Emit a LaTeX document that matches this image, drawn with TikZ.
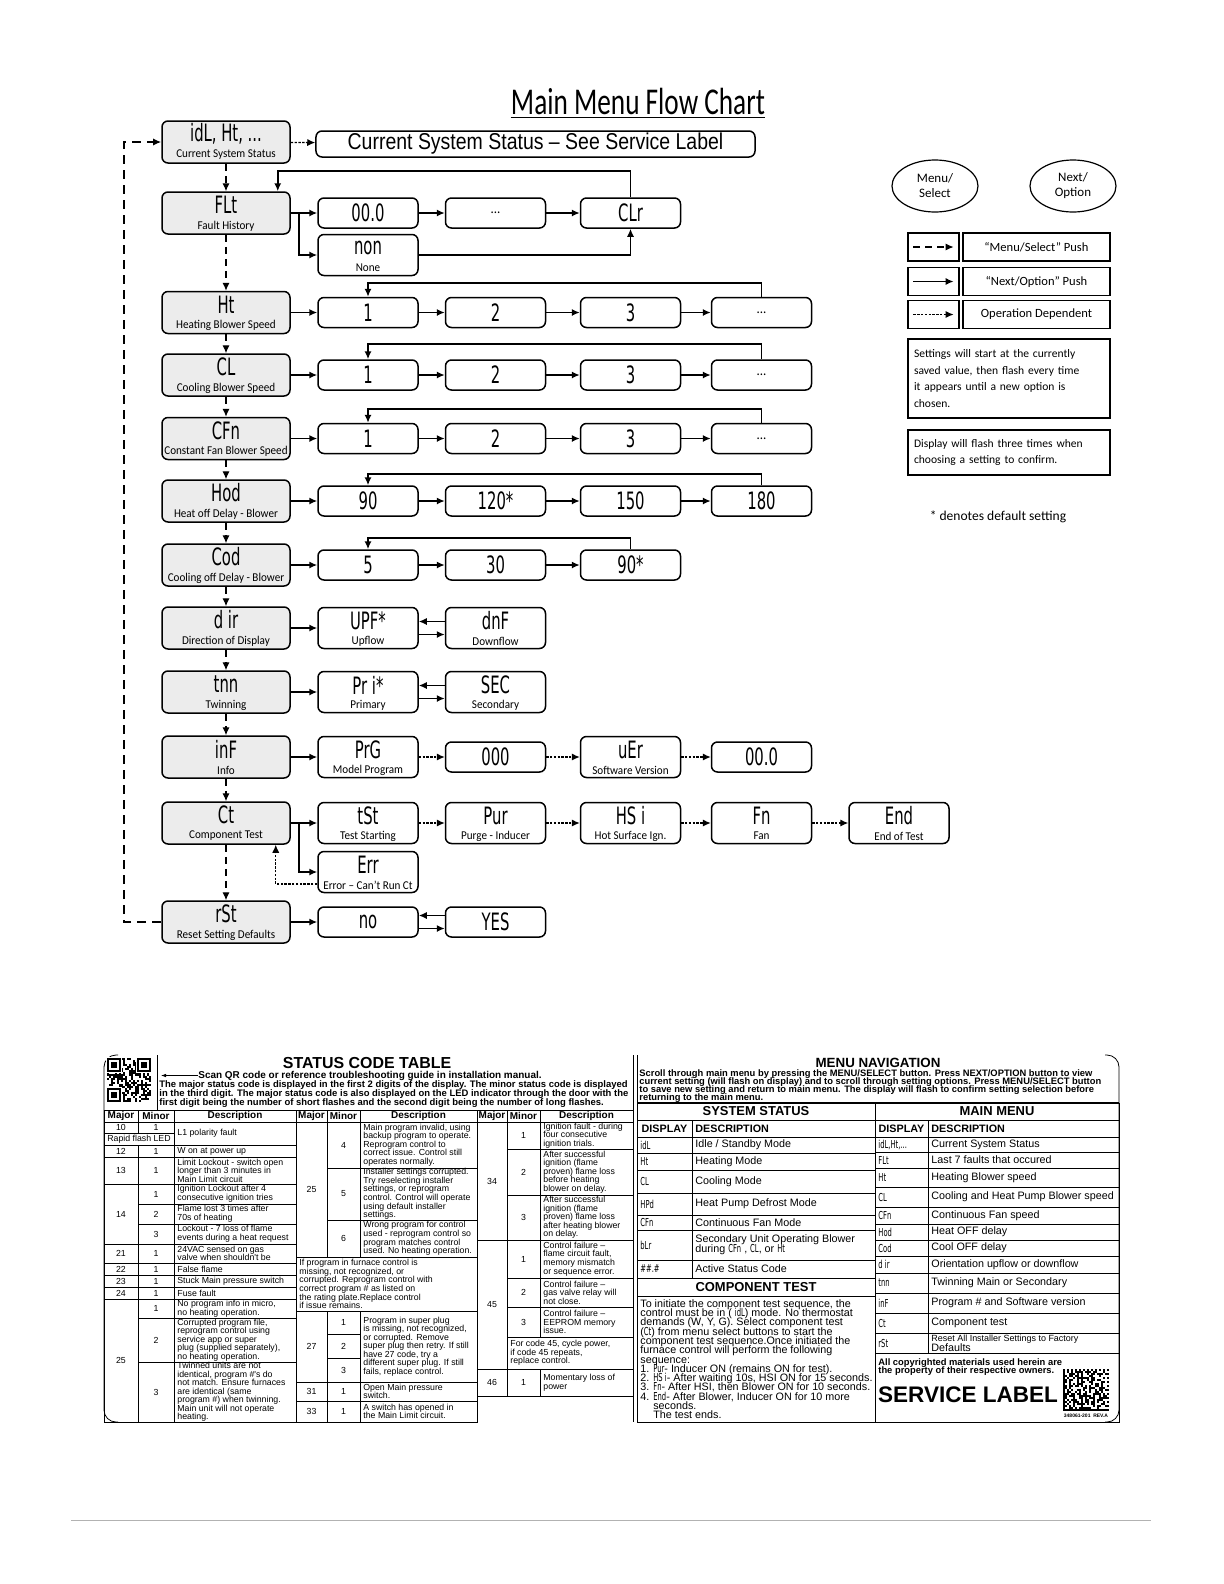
\documentclass[tikz,border=0pt]{standalone}
\usepackage{fontspec}
\setmainfont{Carlito}
\newfontfamily\segfont[FakeStretch=0.62]{DejaVu Sans}
\newfontfamily\lblfont[FakeStretch=0.93]{Carlito}
\newfontfamily\titlefont[FakeStretch=0.72]{Carlito}
\newfontfamily\narrowfont[FakeStretch=0.85]{Liberation Sans}
\newfontfamily\arialfont{Liberation Sans}
\usetikzlibrary{arrows.meta,positioning,shapes.geometric}
\setlength{\lineskiplimit}{-10pt}

\newcommand\segtxt[1]{{\segfont\fontsize{5.5}{5}\selectfont #1}}
% table cells: left aligned / centred
\newcommand\tcl[6][]{\draw[tabline] (#2,#3) rectangle (#4,#5);
  \node[tabtext,anchor=west,#1] at ({#2+3},{(#3+#5)/2}) {#6};}
\newcommand\tcc[6][]{\draw[tabline] (#2,#3) rectangle (#4,#5);
  \node[tabtext,align=center,#1] at ({(#2+#4)/2},{(#3+#5)/2}) {#6};}

\tikzset{
  mainbox/.style={draw,rounded corners=3bp,fill=gray!15,line width=0.75bp,minimum width=64bp,minimum height=21bp,inner sep=0pt},
  optbox/.style={draw,rounded corners=3bp,fill=white,line width=0.75bp,minimum width=50bp,minimum height=15bp,inner sep=0pt,font=\segfont\fontsize{12}{12}\selectfont},
  optbox2/.style={optbox,minimum height=20.5bp},
  segtext/.style={font=\segfont\fontsize{12}{12}\selectfont,inner sep=0pt},
  lbltext/.style={font=\lblfont\fontsize{6}{6}\selectfont,inner sep=0pt},
  keybox/.style={draw,line width=0.6bp,minimum height=14bp,inner sep=3bp,font=\fontsize{6.3}{8.5}\selectfont},
  nextarrow/.style={line width=0.9bp,-{Latex[length=4bp,width=3.6bp]}},
  menuarrow/.style={line width=0.6bp,dash pattern=on 3.5bp off 2.5bp,-{Latex[length=4bp,width=3.6bp]}},
  looparrow/.style={line width=0.9bp,dash pattern=on 4.5bp off 3bp,-{Latex[length=4bp,width=3.6bp]}},
  opdeparrow/.style={line width=0.6bp,dash pattern=on 1.2bp off 0.7bp,-{Latex[length=4bp,width=3.6bp]}},
  tabline/.style={line width=0.4bp},
  tabtext/.style={font=\arialfont\fontsize{4.4}{4.3}\selectfont,inner sep=0pt,align=left},
  tabhead/.style={font=\arialfont\bfseries\fontsize{5}{5}\selectfont},
  tabhead2/.style={font=\arialfont\bfseries\fontsize{5.4}{5}\selectfont},
  tabtext2/.style={font=\arialfont\fontsize{5.4}{5}\selectfont},
  sechead/.style={font=\arialfont\bfseries\fontsize{6.5}{6.5}\selectfont},
}

\begin{document}
\begin{tikzpicture}[x=0.5bp,y=-0.5bp]
\useasboundingbox (0,0) rectangle (1224,1584);

% title
\node[font=\titlefont\fontsize{19}{19}\selectfont,inner sep=0pt] (title) at (638,101) {Main Menu Flow Chart};
\draw[line width=0.5bp] ([yshift=-1.8bp]title.base west) -- ([yshift=-1.8bp]title.base east);

% main menu column
\foreach \nm/\yy/\sg/\lb in {sta/142/{idL, Ht, ...}/Current System Status, flt/213/FLt/Fault History,
    ht/312.5/Ht/Heating Blower Speed, cl/375/CL/Cooling Blower Speed, cfn/438.5/CFn/Constant Fan Blower Speed,
    hod/501/Hod/Heat off Delay - Blower, cod/565/Cod/Cooling off Delay - Blower, dir/628/d ir/Direction of Display,
    tnn/692/tnn/Twinning, inf/757/inF/Info, ct/823/Ct/Component Test, rst/922/rSt/Reset Setting Defaults}{
  \node[mainbox] (\nm) at (226,\yy) {};
  \node[segtext] (\nm-s) at ([yshift=4bp]\nm.center) {\sg};
  \node[lbltext] (\nm-l) at ([yshift=-6.5bp]\nm.center) {\lb};
}

\node[optbox,minimum width=219.5bp,minimum height=13bp,font=\narrowfont\fontsize{11.5}{11.5}\selectfont] (css) at (535.5,144) {Current System Status – See Service Label};

% option boxes with one line
\foreach \nm/\xx/\yy/\sg in {z00/368/213/00.0, clr/630.5/213/CLr,
    hta/368/312.5/1, htb/495.5/312.5/2, htc/630.5/312.5/3,
    cla/368/375/1, clb/495.5/375/2, clc/630.5/375/3,
    cfa/368/438.5/1, cfb/495.5/438.5/2, cfc/630.5/438.5/3,
    hod-1/368/501/90, hod-2/495.5/501/120*, hod-3/630.5/501/150, hod-4/761.5/501/180,
    cod-1/368/565/5, cod-2/495.5/565/30, cod-3/630.5/565/90*,
    inf-2/495.5/757/000, inf-4/761.5/757/00.0, no/368/922/no, yes/495.5/922/YES}
  {\node[optbox] (\nm) at (\xx,\yy) {\sg};}
\foreach \nm/\xx/\yy in {dots/495.5/213, htd/761.5/312.5, cld/761.5/375, cfd/761.5/438.5}
  {\node[optbox,font=\lblfont\fontsize{7}{7}\selectfont] (\nm) at (\xx,\yy) {...};}

% option boxes with a caption
\foreach \nm/\xx/\yy/\sg/\lb in {non/368/255/non/None, upf/368/628/UPF*/Upflow, dnf/495.5/628/dnF/Downflow,
    pri/368/692/Pr i*/Primary, sec/495.5/692/SEC/Secondary, prg/368/757/PrG/Model Program,
    ver/630.5/757/uEr/Software Version, tst/368/823/tSt/Test Starting, pur/495.5/823/Pur/Purge - Inducer,
    hsi/630.5/823/HS i/Hot Surface Ign., fan/761.5/823/Fn/Fan, endt/899/823/End/End of Test,
    err/368/872/Err/Error – Can’t Run Ct}{
  \node[optbox2] (\nm) at (\xx,\yy) {};
  \node[segtext] (\nm-s) at ([yshift=3.5bp]\nm.center) {\sg};
  \node[lbltext] (\nm-l) at ([yshift=-6.5bp]\nm.center) {\lb};
}

% connectors
\foreach \src/\dst in {sta/flt, flt/ht, ht/cl, cl/cfn, cfn/hod, hod/cod, cod/dir, dir/tnn, tnn/inf, inf/ct, ct/rst}
  \draw[menuarrow] (\src) -- (\dst);
\foreach \src/\dst in {flt/z00, z00/dots, dots/clr, ht/hta, hta/htb, htb/htc, htc/htd, cl/cla, cla/clb, clb/clc, clc/cld,
    cfn/cfa, cfa/cfb, cfb/cfc, cfc/cfd, hod/hod-1, hod-1/hod-2, hod-2/hod-3, hod-3/hod-4,
    cod/cod-1, cod-1/cod-2, cod-2/cod-3, dir/upf, tnn/pri, inf/prg, ct/tst, rst/no}
  \draw[nextarrow] (\src) -- (\dst);
\foreach \src/\dst in {sta/css, prg/inf-2, inf-2/ver, ver/inf-4, tst/pur, pur/hsi, hsi/fan, fan/endt}
  \draw[opdeparrow] (\src) -- (\dst);

\draw[nextarrow] (flt.east) -- ++(8,0) |- (non.west);
\draw[nextarrow] (non.east) -| (clr.south);
\draw[nextarrow] (clr.north) -- ++(0,-26) -| ([xshift=-6.5bp]flt.north east);
\draw[nextarrow] (htd.north) -- ++(0,-14) -| (hta.north);
\draw[nextarrow] (cld.north) -- ++(0,-15) -| (cla.north);
\draw[nextarrow] (cfd.north) -- ++(0,-14) -| (cfa.north);
\draw[nextarrow] (hod-4.north) -- ++(0,-11) -| (hod-1.north);
\draw[nextarrow] (cod-3.north) -- ++(0,-11) -| (cod-1.north);
\foreach \lft/\rgt in {upf/dnf, pri/sec, no/yes}{
  \draw[nextarrow] ([yshift=3.25bp]\rgt.west) -- ([yshift=3.25bp]\lft.east);
  \draw[nextarrow] ([yshift=-3.25bp]\lft.east) -- ([yshift=-3.25bp]\rgt.west);
}
\draw[nextarrow] (ct.east) -- ++(8,0) |- (err.west);
\draw[opdeparrow] ([yshift=-6bp]err.west) -| ([xshift=-7.5bp]ct.south east);
\draw[looparrow] (rst.west) -- ++(-37,0) |- (sta.west);

% legend
\node[draw,ellipse,line width=0.6bp,minimum width=43bp,minimum height=26bp,inner sep=0pt,align=center,font=\fontsize{6.5}{7.5}\selectfont] (menukey) at (935,186) {Menu/\\Select};
\node[draw,ellipse,line width=0.6bp,minimum width=43bp,minimum height=26bp,inner sep=0pt,align=center,font=\fontsize{6.5}{7.5}\selectfont] (nextkey) at (1073,186) {Next/\\Option};
\foreach \nm/\yy/\st/\tx in {keya/247/menuarrow/{“Menu/Select” Push}, keyb/281.5/nextarrow/{“Next/Option” Push}, keyc/314.5/opdeparrow/{Operation Dependent}}{
  \node[keybox,minimum width=25.5bp] (\nm) at (933.5,\yy) {};
  \node[keybox,minimum width=73.5bp] (\nm-t) at (1036.5,\yy) {\tx};
  \draw[\st] ([xshift=3bp]\nm.west) -- ([xshift=-3bp]\nm.east);
}
\node[keybox,text width=95bp,align=left,minimum height=39.5bp,font=\fontsize{5.8}{8.5}\selectfont] (note1) at (1009,378.5)
  {Settings will start at the currently\\saved value, then flash every time\\it appears until a new option is\\chosen.};
\node[keybox,text width=95bp,align=left,minimum height=22.5bp,font=\fontsize{5.8}{8.5}\selectfont] (note2) at (1009,452.5)
  {Display will flash three times when\\choosing a setting to confirm.};
\node[font=\fontsize{6.8}{8}\selectfont] (dflt) at (998,517) {* denotes default setting};

% ---------------- service label ----------------
\draw[tabline,rounded corners=6bp] (118,1055) -- (104,1055) -- (104,1422) -- (118,1422);
\draw[tabline,rounded corners=6bp] (1105,1055) -- (1119,1055) -- (1119,1422) -- (1105,1422);
\draw[tabline] (157,1055) -- (157,1110);
\draw[tabline] (633,1055) -- (633,1422);
\draw[tabline] (637,1055) -- (637,1422);

% qr code
\pgfmathsetseed{7}
\begin{scope}[shift={(107,1058)}]
  \foreach \i in {0,...,21}{\foreach \j in {0,...,21}{
    \pgfmathrandominteger{\qrbit}{0}{1}
    \ifnum\qrbit=1 \fill (2*\i,2*\j) rectangle ++(2,2);\fi}}
  \foreach \px/\py in {0/0,30/0,0/30}{
    \fill[white] (\px-1,\py-1) rectangle ++(16,16);
    \fill (\px,\py) rectangle ++(14,14);
    \fill[white] (\px+2,\py+2) rectangle ++(10,10);
    \fill (\px+4,\py+4) rectangle ++(6,6);}
\end{scope}

\node[font=\arialfont\bfseries\fontsize{8}{8}\selectfont,inner sep=0pt] (sct) at (367,1063) {STATUS CODE TABLE};
\node[font=\arialfont\bfseries\fontsize{5}{5}\selectfont,inner sep=0pt,anchor=west] (scan) at (198,1075.5) {Scan QR code or reference troubleshooting guide in installation manual.};
\coordinate (qrarrow) at (161,1075.5);
\draw[line width=0.4bp,-{Latex[length=2.5bp,width=1.8bp]}] (scan.west) -- (qrarrow);
\node[font=\arialfont\bfseries\fontsize{4.75}{4.5}\selectfont,inner sep=0pt,anchor=north west,align=left] (major) at (159,1080.5)
  {The major status code is displayed in the first 2 digits of the display. The minor status code is displayed\\
   in the third digit. The major status code is also displayed on the LED indicator through the door with the\\
   first digit being the number of short flashes and the second digit being the number of long flashes.};

% status code table
\foreach \xa/\xb/\xc/\xd in {104/138/174/296, 296/327/360/477, 477/507/540/633}{
  \tcc[tabhead]{\xa}{1110}{\xb}{1122}{Major}
  \tcc[tabhead]{\xb}{1110}{\xc}{1122}{Minor}
  \tcc[tabhead]{\xc}{1110}{\xd}{1122}{Description}
}
\tcc{104}{1122}{138}{1133}{10}
\tcc{138}{1122}{174}{1133}{1}
\tcl{174}{1122}{296}{1145}{L1 polarity fault}
\tcc{104}{1133}{174}{1145}{Rapid flash LED}
\tcc{104}{1145}{138}{1157}{12}
\tcc{138}{1145}{174}{1157}{1}
\tcl{174}{1145}{296}{1157}{W on at power up}
\tcc{104}{1157}{138}{1184}{13}
\tcc{138}{1157}{174}{1184}{1}
\tcl{174}{1157}{296}{1184}{Limit Lockout - switch open\\longer than 3 minutes in\\Main Limit circuit}
\tcc{104}{1184}{138}{1244}{14}
\tcc{138}{1184}{174}{1204}{1}
\tcl{174}{1184}{296}{1204}{Ignition Lockout after 4\\consecutive ignition tries}
\tcc{138}{1204}{174}{1224}{2}
\tcl{174}{1204}{296}{1224}{Flame lost 3 times after\\70s of heating}
\tcc{138}{1224}{174}{1244}{3}
\tcl{174}{1224}{296}{1244}{Lockout - 7 loss of flame\\events during a heat request}
\tcc{104}{1244}{138}{1263}{21}
\tcc{138}{1244}{174}{1263}{1}
\tcl{174}{1244}{296}{1263}{24VAC sensed on gas\\valve when shouldn't be}
\foreach \ma/\ya/\yb/\tx in {22/1263/1275/False flame, 23/1275/1287/Stuck Main pressure switch, 24/1287/1299/Fuse fault}{
  \tcc{104}{\ya}{138}{\yb}{\ma}
  \tcc{138}{\ya}{174}{\yb}{1}
  \tcl{174}{\ya}{296}{\yb}{\tx}
}
\tcc{104}{1299}{138}{1422}{25}
\tcc{138}{1299}{174}{1318}{1}
\tcl{174}{1299}{296}{1318}{No program info in micro,\\no heating operation.}
\tcc{138}{1318}{174}{1362}{2}
\tcl{174}{1318}{296}{1362}{Corrupted program file,\\reprogram control using\\service app or super\\plug (supplied separately),\\no heating operation.}
\tcc{138}{1362}{174}{1422}{3}
\tcl{174}{1362}{296}{1422}{Twinned units are not\\identical, program \#'s do\\not match. Ensure furnaces\\are identical (same\\program \#) when twinning.\\Main unit will not operate\\heating.}

\tcc{296}{1122}{327}{1257}{25}
\tcc{327}{1122}{360}{1168}{4}
\tcl{360}{1122}{477}{1168}{Main program invalid, using\\backup program to operate.\\Reprogram control to\\correct issue. Control still\\operates normally.}
\tcc{327}{1168}{360}{1220}{5}
\tcl{360}{1168}{477}{1220}{Installer settings corrupted.\\Try reselecting installer\\settings, or reprogram\\control. Control will operate\\using default installer\\settings.}
\tcc{327}{1220}{360}{1257}{6}
\tcl{360}{1220}{477}{1257}{Wrong program for control\\used - reprogram control so\\program matches control\\used. No heating operation.}
\tcl{296}{1257}{477}{1311}{If program in furnace control is\\missing, not recognized, or\\corrupted. Reprogram control with\\correct program \# as listed on\\the rating plate.Replace control\\if issue remains.}
\tcc{296}{1311}{327}{1382}{27}
\tcc{327}{1311}{360}{1334}{1}
\tcc{327}{1334}{360}{1358}{2}
\tcc{327}{1358}{360}{1382}{3}
\tcl{360}{1311}{477}{1382}{Program in super plug\\is missing, not recognized,\\or corrupted. Remove\\super plug then retry. If still\\have 27 code, try a\\different super plug. If still\\fails, replace control.}
\tcc{296}{1382}{327}{1401}{31}
\tcc{327}{1382}{360}{1401}{1}
\tcl{360}{1382}{477}{1401}{Open Main pressure\\switch.}
\tcc{296}{1401}{327}{1422}{33}
\tcc{327}{1401}{360}{1422}{1}
\tcl{360}{1401}{477}{1422}{A switch has opened in\\the Main Limit circuit.}

\tcc{477}{1122}{507}{1240}{34}
\tcc{507}{1122}{540}{1149}{1}
\tcl{540}{1122}{633}{1149}{Ignition fault - during\\four consecutive\\ignition trials.}
\tcc{507}{1149}{540}{1195}{2}
\tcl{540}{1149}{633}{1195}{After successful\\ignition (flame\\proven) flame loss\\before heating\\blower on delay.}
\tcc{507}{1195}{540}{1240}{3}
\tcl{540}{1195}{633}{1240}{After successful\\ignition (flame\\proven) flame loss\\after heating blower\\on delay.}
\tcc{477}{1240}{507}{1369}{45}
\tcc{507}{1240}{540}{1278}{1}
\tcl{540}{1240}{633}{1278}{Control failure –\\flame circuit fault,\\memory mismatch\\or sequence error.}
\tcc{507}{1278}{540}{1307}{2}
\tcl{540}{1278}{633}{1307}{Control failure –\\gas valve relay will\\not close.}
\tcc{507}{1307}{540}{1337}{3}
\tcl{540}{1307}{633}{1337}{Control failure –\\EEPROM memory\\issue.}
\tcl{507}{1337}{633}{1369}{For code 45, cycle power,\\if code 45 repeats,\\replace control.}
\tcc{477}{1369}{507}{1396}{46}
\tcc{507}{1369}{540}{1396}{1}
\tcl{540}{1369}{633}{1396}{Momentary loss of\\power}
\draw[tabline] (104,1422) -- (477,1422);

% menu navigation
\node[font=\arialfont\bfseries\fontsize{6.7}{6.7}\selectfont,inner sep=0pt] (mnav) at (878,1063) {MENU NAVIGATION};
\node[font=\arialfont\bfseries\fontsize{4.7}{4}\selectfont,inner sep=0pt,anchor=north west,align=left] (scroll) at (639,1069)
  {Scroll through main menu by pressing the MENU/SELECT button. Press NEXT/OPTION button to view\\
   current setting (will flash on display) and to scroll through setting options. Press MENU/SELECT button\\
   to save new setting and return to main menu. The display will flash to confirm setting selection before\\
   returning to the main menu.};
\draw[line width=1.2bp] (637,1103) -- (1119,1103);
\tcc[sechead]{637}{1103}{875}{1120}{SYSTEM STATUS}
\tcc[sechead]{875}{1103}{1119}{1120}{MAIN MENU}
\tcc[tabhead2]{637}{1120}{692}{1137}{DISPLAY}
\tcl[tabhead2]{692}{1120}{875}{1137}{DESCRIPTION}
\tcc[tabhead2]{875}{1120}{928}{1137}{DISPLAY}
\tcl[tabhead2]{928}{1120}{1119}{1137}{DESCRIPTION}
\foreach \ya/\yb/\ds/\tx in {1137/1153/idL/{Idle / Standby Mode}, 1153/1170/Ht/Heating Mode, 1170/1193/CL/Cooling Mode,
    1193/1215/HPd/Heat Pump Defrost Mode, 1215/1230/CFn/Continuous Fan Mode,
    1230/1260/bLr/{Secondary Unit Operating Blower\\during \segtxt{CFn} , \segtxt{CL}, or \segtxt{Ht}},
    1260/1278/{\#\#.\#}/Active Status Code}{
  \tcl{637}{\ya}{692}{\yb}{\segtxt{\ds}}
  \tcl[tabtext2]{692}{\ya}{875}{\yb}{\tx}
}
\foreach \ya/\yb/\ds/\tx in {1137/1152/{idL,Ht,...}/Current System Status, 1152/1168/FLt/Last 7 faults that occured,
    1168/1187/Ht/Heating Blower speed, 1187/1207/CL/Cooling and Heat Pump Blower speed,
    1207/1224/CFn/Continuous Fan speed, 1224/1240/Hod/Heat OFF delay, 1240/1256/Cod/Cool OFF delay,
    1256/1273/d ir/Orientation upflow or downflow, 1273/1293/tnn/Twinning Main or Secondary,
    1293/1313/inF/Program \# and Software version, 1313/1333/Ct/Component test,
    1333/1353/rSt/{\fontsize{4.5}{4.3}\selectfont Reset All Installer Settings to Factory\\Defaults}}{
  \tcl{875}{\ya}{928}{\yb}{\segtxt{\ds}}
  \tcl[tabtext2]{928}{\ya}{1119}{\yb}{\tx}
}
\tcc[sechead]{637}{1278}{875}{1296}{COMPONENT TEST}
\draw[tabline] (637,1296) rectangle (875,1422);
\node[font=\arialfont\fontsize{5.4}{4.67}\selectfont,inner sep=0pt,anchor=north west,align=left] (ctest) at (640,1299)
  {To initiate the component test sequence, the\\
   control must be in ( \segtxt{idL}) mode. No thermostat\\
   demands (W, Y, G). Select component test\\
   (\segtxt{Ct}) from menu select buttons to start the\\
   component test sequence.Once initiated the\\
   furnace control will perform the following\\
   sequence:\\
   1. \segtxt{Pur}- Inducer ON (remains ON for test).\\
   2. \segtxt{HS i}- After waiting 10s, HSI ON for 15 seconds.\\
   3. \segtxt{Fn}- After HSI, then Blower ON for 10 seconds.\\
   4. \segtxt{End}- After Blower, Inducer ON for 10 more\\
   \hspace*{1.2em}seconds.\\
   \hspace*{1.2em}The test ends.};
\draw[tabline] (875,1353) rectangle (1119,1422);
\node[font=\arialfont\bfseries\fontsize{4.7}{4.3}\selectfont,inner sep=0pt,anchor=north west,align=left] (copy) at (878,1358)
  {All copyrighted materials used herein are\\the property of their respective owners.};
\node[font=\arialfont\bfseries\fontsize{11.3}{11.3}\selectfont,inner sep=0pt] (svc) at (968,1395) {SERVICE LABEL};
\node[font=\arialfont\bfseries\fontsize{2.5}{2.5}\selectfont,inner sep=0pt] (rev) at (1086,1416) {348061-201 \ REV.A};

% data matrix
\begin{scope}[shift={(1063,1369)}]
  \foreach \i in {1,...,21}{\foreach \j in {1,...,19}{
    \pgfmathrandominteger{\qrbit}{0}{1}
    \ifnum\qrbit=1 \fill (2*\i,2*\j) rectangle ++(2,2);\fi}}
  \fill (0,0) rectangle (2,42);
  \fill (0,40) rectangle (46,42);
  \foreach \i in {0,2,...,22} \fill (2*\i,0) rectangle ++(2,2);
  \foreach \j in {0,2,...,20} \fill (44,2*\j) rectangle ++(2,2);
\end{scope}

\draw[gray!60,line width=0.5bp] (71,1520) -- (1151,1520);
\end{tikzpicture}
\end{document}
